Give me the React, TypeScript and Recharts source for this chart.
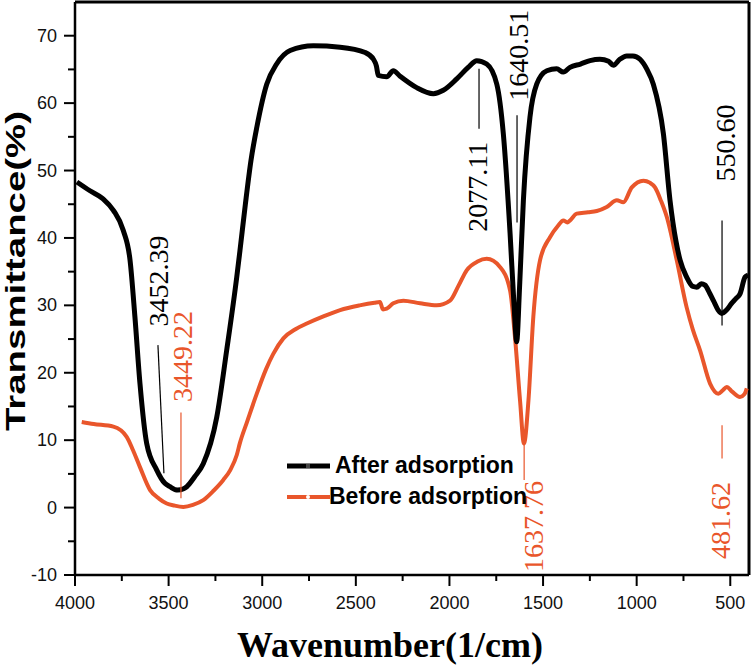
import { Legend, Line, LineChart, ReferenceDot, ReferenceLine, XAxis, YAxis } from "recharts";

// FTIR spectra (wavenumber in 1/cm, transmittance in %)
const AFTER_WN = [
  3990, 3920, 3850, 3795, 3742, 3706, 3680, 3653, 3617, 3564, 3520, 3493, 3452, 3420, 3403, 3360, 3315,
  3243, 3190, 3136, 3119, 3090, 3060, 3029, 2976, 2923, 2851, 2727, 2584, 2450, 2406, 2390, 2380, 2335,
  2300, 2264, 2175, 2086, 2033, 1961, 1900, 1854, 1801, 1747, 1712, 1676, 1655, 1641, 1625, 1605, 1570,
  1534, 1480, 1427, 1392, 1356, 1300, 1249, 1196, 1150, 1124, 1090, 1053, 1020, 982, 945, 911, 857, 822,
  790, 768, 733, 700, 679, 655, 635, 610, 590, 565, 546, 520, 493, 470, 448, 421, 405,
];
const AFTER_T = [
  48.3, 47.0, 45.8, 44.1, 41.1, 36.7, 28.3, 18.4, 9.5, 5.6, 3.6, 3.1, 2.6, 2.8, 3.1, 4.6, 6.5,
  13.4, 23.3, 34.2, 38.1, 45.0, 51.5, 56.4, 62.8, 65.8, 67.8, 68.5, 68.3, 67.5, 66.5, 65.5, 64.1, 63.9,
  64.8, 64.0, 62.3, 61.4, 61.9, 63.6, 65.3, 66.3, 65.8, 62.8, 55.4, 40.6, 30.0, 24.6, 33.0, 45.6, 57.9,
  62.8, 64.8, 65.1, 64.6, 65.3, 65.8, 66.3, 66.5, 66.2, 65.6, 66.5, 67.0, 67.0, 66.5, 65.0, 62.8, 55.4, 45.6,
  39.5, 36.7, 34.2, 32.8, 32.7, 33.2, 33.0, 31.8, 30.7, 29.3, 28.8, 29.3, 30.3, 31.0, 31.7, 34.2, 34.5,
];

const BEFORE_WN = [
  3964, 3900, 3795, 3724, 3690, 3653, 3599, 3550, 3510, 3470, 3421, 3370, 3315, 3260, 3208, 3170, 3136,
  3119, 3080, 3029, 2980, 2941, 2887, 2820, 2762, 2670, 2584, 2480, 2400, 2371, 2355, 2335, 2300, 2246,
  2157, 2068, 1997, 1950, 1908, 1850, 1801, 1730, 1676, 1650, 1623, 1602, 1578, 1552, 1516, 1463, 1420,
  1392, 1370, 1356, 1320, 1260, 1213, 1160, 1106, 1071, 1026, 964, 930, 902, 870, 839, 786, 733, 700,
  661, 608, 564, 540, 519, 490, 448, 425, 412,
];
const BEFORE_T = [
  12.7, 12.4, 12.0, 10.5, 8.5, 6.0, 2.6, 1.3, 0.6, 0.3, 0.1, 0.4, 1.1, 2.5, 4.1, 5.6, 7.8,
  9.6, 12.8, 16.9, 20.5, 22.8, 25.1, 26.5, 27.3, 28.4, 29.3, 30.0, 30.4, 30.5, 29.4, 29.5, 30.3, 30.7,
  30.3, 30.0, 30.7, 33.0, 35.2, 36.5, 36.9, 35.7, 32.2, 25.3, 15.9, 9.5, 15.9, 28.3, 36.7, 40.1, 41.8,
  42.6, 42.3, 42.6, 43.6, 43.8, 44.0, 44.6, 45.6, 45.3, 47.5, 48.5, 48.2, 47.5, 45.5, 43.1, 36.7, 29.7, 26.4,
  23.3, 18.4, 16.9, 17.4, 17.9, 17.2, 16.4, 16.8, 17.7,
];

const X_TICKS = [4000, 3750, 3500, 3250, 3000, 2750, 2500, 2250, 2000, 1750, 1500, 1250, 1000, 750, 500];
const Y_TICKS = [-10, -5, 0, 5, 10, 15, 20, 25, 30, 35, 40, 45, 50, 55, 60, 65, 70];

// peak annotations: text, series, text anchor (wn, T), leader line ends
const PEAK_TEXT = ["3452.39", "3449.22", "2077.11", "1640.51", "550.60", "1637.76", "481.62"];
const PEAK_SERIES = ["after", "before", "after", "after", "after", "before", "before"];
const PEAK_TEXT_AT: [number, number][] = [
  [3503, 33.6], [3375, 22.4], [1799, 47.6], [1580, 67.1], [474, 54.1], [1500, -2.8], [501, -1.9],
];
const PEAK_LEADER: [number, number, number, number][] = [
  [3557, 24.1, 3525, 5.1],
  [3434, 14.1, 3434, 1.4],
  [1842, 65.1, 1842, 56.2],
  [1639, 58.2, 1639, 42.3],
  [544, 42.6, 544, 27.0],
  [1601, 10.0, 1601, 4.1],
  [544, 12.2, 544, 7.3],
];

const BLACK = "#000000";
const ORANGE = "#E9562B";
const SANS = "'Liberation Sans', Arial, sans-serif";
const SERIF = "'Liberation Serif', 'Times New Roman', serif";

const afterData = AFTER_WN.map((w, i) => ({ w, t: AFTER_T[i] }));
const beforeData = BEFORE_WN.map((w, i) => ({ w, t: BEFORE_T[i] }));

function XTick(props: any) {
  const { x, y, payload } = props;
  const major = payload.value % 500 === 0;
  return (
    <g>
      <line x1={x} x2={x} y1={y} y2={y + (major ? 11 : 6)} stroke={BLACK} strokeWidth={2} />
      {major && (
        <text x={x} y={y + 34} textAnchor="middle" fontFamily={SANS} fontSize={18} fill="#111">
          {payload.value}
        </text>
      )}
    </g>
  );
}

function YTick(props: any) {
  const { x, y, payload } = props;
  const major = payload.value % 10 === 0;
  return (
    <g>
      <line x1={x - (major ? 11 : 7)} x2={x} y1={y} y2={y} stroke={BLACK} strokeWidth={2} />
      {major && (
        <text x={x - 18} y={y + 6} textAnchor="end" fontFamily={SANS} fontSize={18} fill="#111">
          {payload.value}
        </text>
      )}
    </g>
  );
}

function LegendBox() {
  return (
    <svg width={260} height={64}>
      <line x1={7} x2={50} y1={18} y2={18} stroke={BLACK} strokeWidth={5} />
      <rect x={26} y={16} width={4} height={4} fill="#444" />
      <text x={55} y={25} fontFamily={SANS} fontWeight="bold" fontSize={23} fill="#000">
        After adsorption
      </text>
      <line x1={7} x2={50} y1={49} y2={49} stroke={ORANGE} strokeWidth={4} />
      <circle cx={28} cy={49} r={2} fill="#fff" />
      <text x={49} y={56} fontFamily={SANS} fontWeight="bold" fontSize={23} fill="#000">
        Before adsorption
      </text>
    </svg>
  );
}

export default function App() {
  return (
    <div style={{ width: 751, height: 665, position: "relative", background: "#fff" }}>
      <style>{`body{margin:0}`}</style>
      <LineChart width={751} height={665} margin={{ top: 2, right: 2, left: 0, bottom: 0 }}>
        <XAxis
          dataKey="w"
          type="number"
          domain={[400, 4000]}
          reversed
          ticks={X_TICKS}
          interval={0}
          tickSize={0}
          tickMargin={0}
          tick={XTick}
          height={90}
          axisLine={{ stroke: BLACK, strokeWidth: 2.5 }}
          allowDataOverflow
        />
        <YAxis
          type="number"
          domain={[-10, 75]}
          ticks={Y_TICKS}
          interval={0}
          tickSize={0}
          tickMargin={0}
          tick={YTick}
          width={75}
          axisLine={{ stroke: BLACK, strokeWidth: 2.5 }}
          allowDataOverflow
        />
        <ReferenceLine y={75} stroke={BLACK} strokeWidth={3} />
        <ReferenceLine x={400} stroke={BLACK} strokeWidth={3} />
        <Line
          data={beforeData}
          dataKey="t"
          type="monotone"
          stroke={ORANGE}
          strokeWidth={4}
          dot={false}
          isAnimationActive={false}
          name="Before adsorption"
        />
        <Line
          data={afterData}
          dataKey="t"
          type="monotone"
          stroke={BLACK}
          strokeWidth={5}
          dot={false}
          isAnimationActive={false}
          name="After adsorption"
        />
        {PEAK_LEADER.map((s, i) => (
          <ReferenceLine
            key={`lead-${i}`}
            segment={[{ x: s[0], y: s[1] }, { x: s[2], y: s[3] }]}
            stroke={PEAK_SERIES[i] === "after" ? BLACK : ORANGE}
            strokeWidth={1.2}
          />
        ))}
        {PEAK_TEXT.map((txt, i) => (
          <ReferenceDot
            key={`peak-${i}`}
            x={PEAK_TEXT_AT[i][0]}
            y={PEAK_TEXT_AT[i][1]}
            r={0}
            fill="none"
            stroke="none"
            label={(p: any) => {
              const vx = p.viewBox.x + (p.viewBox.width || 0) / 2;
              const vy = p.viewBox.y + (p.viewBox.height || 0) / 2;
              return (
                <text
                  x={vx}
                  y={vy}
                  transform={`rotate(-90 ${vx} ${vy})`}
                  textAnchor="middle"
                  fontFamily={SERIF}
                  fontSize={28}
                  fill={PEAK_SERIES[i] === "after" ? BLACK : ORANGE}
                >
                  {txt}
                </text>
              );
            }}
          />
        ))}
        <Legend
          layout="horizontal"
          verticalAlign="middle"
          align="center"
          wrapperStyle={{ left: 280, top: 448, width: 260, height: 64 }}
          content={() => <LegendBox />}
        />
      </LineChart>
      <svg width={751} height={665} style={{ position: "absolute", left: 0, top: 0, pointerEvents: "none" }}>
        <text
          transform="translate(25,271) rotate(-90)"
          textAnchor="middle"
          fontFamily={SANS}
          fontWeight="bold"
          fontSize={28}
          textLength={320}
          lengthAdjust="spacingAndGlyphs"
          fill="#000"
        >
          Transmittance(%)
        </text>
        <text x={390} y={657} textAnchor="middle" fontFamily={SERIF} fontWeight="bold" fontSize={36} fill="#000">
          Wavenumber(1/cm)
        </text>
      </svg>
    </div>
  );
}
